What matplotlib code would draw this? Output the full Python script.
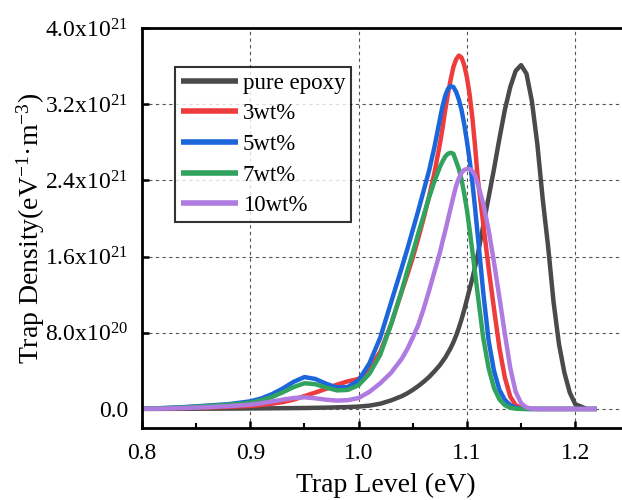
import numpy as np
import matplotlib
matplotlib.use('Agg')
import matplotlib.pyplot as plt
from matplotlib.ticker import MultipleLocator, FuncFormatter

plt.rcParams['font.family'] = ['Liberation Serif', 'DejaVu Serif']
plt.rcParams['mathtext.fontset'] = 'custom'
plt.rcParams['mathtext.rm'] = 'Liberation Serif'
plt.rcParams['mathtext.it'] = 'Liberation Serif:italic'

# trap level (eV), finer spacing around the peaks
trap_level = [0.80, 0.82, 0.84, 0.86, 0.88,
              0.90, 0.91, 0.92, 0.93, 0.94, 0.95, 0.96, 0.97, 0.98, 0.99, 1.00, 1.01, 1.02, 1.03, 1.04,
              1.045, 1.05, 1.055, 1.06, 1.065, 1.07,
              1.075, 1.0775, 1.08, 1.0825, 1.085, 1.0875, 1.09, 1.0925, 1.095, 1.0975, 1.10, 1.1025,
              1.105, 1.1075, 1.11,
              1.115, 1.12, 1.125, 1.13, 1.135, 1.14, 1.145, 1.15, 1.155, 1.16, 1.165, 1.17, 1.175,
              1.18, 1.185, 1.19, 1.195, 1.20,
              1.21, 1.22]

# trap density in units of 1e20 eV^-1 m^-3 (nan = no data)
pure_epoxy = [0, 0.01, 0.02, 0.03, 0.04,
              0.05, 0.06, 0.07, 0.08, 0.09, 0.10, 0.12, 0.14, 0.17, 0.20, 0.25, 0.35, 0.55, 0.90, 1.35,
              1.65, 2.0, 2.4, 2.85, 3.35, 3.95,
              4.6, 5.0, 5.4, 5.9, 6.4, 7.0, 7.7, 8.5, 9.4, 10.4, 11.5, 12.6, 13.7, 14.9, 16.2,
              19.2, 22.2, 25.2, 28.4, 31.4, 33.8, 35.5, 36.1, 35.2, 32.3, 27.8, 22.0, 17.0,
              11.2, 6.8, 3.8, 1.7, 0.5,
              0.03, np.nan]
wt3 = [0.02, 0.05, 0.10, 0.15, 0.22,
       0.32, 0.42, 0.55, 0.72, 0.98, 1.35, 1.72, 2.12, 2.55, 2.90, 3.15, 4.3, 6.0, 8.9, 12.4,
       14.1, 15.9, 17.9, 20.0, 22.3, 24.8,
       27.8, 29.5, 31.4, 33.1, 34.6, 35.9, 36.7, 37.1, 36.9, 36.1, 34.8, 33.0, 30.6, 27.6, 24.2,
       19.5, 14.8, 10.5, 6.4, 3.3, 1.3, 0.4, 0.1, 0.02, 0, 0, 0, 0,
       0, 0, 0, 0, 0,
       0, 0]
wt5 = [0.02, 0.10, 0.20, 0.35, 0.50,
       0.80, 1.10, 1.55, 2.15, 2.85, 3.35, 3.15, 2.65, 2.25, 2.30, 3.0, 4.8, 7.5, 11.2, 14.9,
       16.8, 18.8, 20.8, 22.9, 25.0, 27.5,
       30.4, 31.8, 32.9, 33.6, 33.9, 33.8, 33.3, 32.5, 31.4, 29.9, 28.1, 26.1, 23.8, 21.1, 18.2,
       12.3, 7.2, 4.0, 2.0, 0.95, 0.4, 0.12, 0.03, 0, 0, 0, 0, 0,
       0, 0, 0, 0, 0,
       0, 0]
wt7 = [0.02, 0.08, 0.17, 0.30, 0.45,
       0.65, 0.90, 1.25, 1.75, 2.30, 2.70, 2.60, 2.25, 1.95, 2.00, 2.50, 3.7, 5.7, 8.9, 12.5,
       14.5, 16.4, 18.4, 20.3, 22.2, 23.9,
       25.4, 26.0, 26.5, 26.8, 26.9, 26.8, 26.0, 25.2, 24.1, 22.6, 20.9, 18.8, 16.6, 14.3, 12.0,
       7.5, 4.3, 2.2, 1.0, 0.4, 0.12, 0.03, 0, 0, 0, 0, 0, 0,
       0, 0, 0, 0, 0,
       0, 0]
wt10 = [0.01, 0.04, 0.10, 0.18, 0.30,
        0.45, 0.60, 0.78, 0.98, 1.15, 1.22, 1.12, 0.97, 0.88, 0.92, 1.15, 1.8, 2.7, 3.8, 5.3,
        6.3, 7.5, 8.8, 10.5, 12.4, 14.4,
        16.4, 17.6, 18.7, 19.9, 21.1, 22.3, 23.4, 24.2, 24.8, 25.1, 25.2, 25.2, 25.0, 24.5, 23.6,
        21.6, 18.8, 15.4, 11.7, 7.9, 4.3, 1.8, 0.6, 0.15, 0.03, 0, 0, 0,
        0, 0, 0, 0, 0,
        0, 0]

labels = ['pure epoxy', '3wt%', '5wt%', '7wt%', '10wt%']
colors = ['#4a4a4a', '#ee3b3b', '#1c66dc', '#31a35e', '#b07be0']
series = [pure_epoxy, wt3, wt5, wt7, wt10]

fig = plt.figure(figsize=(6.22, 5.0), dpi=100)
# right edge of the axes lies just outside the image (x = 1.25)
ax = fig.add_axes([142 / 622, 72 / 500, 487.4 / 622, 400 / 500])

x = np.array(trap_level)
for y, lab, c in zip(series, labels, colors):
    ax.plot(x, np.array(y) * 1e20, color=c, lw=3.2, label=lab,
            solid_joinstyle='round', solid_capstyle='butt')

ax.set_xlim(0.8, 1.25)
ax.set_ylim(-2e20, 4e21)
ax.xaxis.set_major_locator(MultipleLocator(0.1))
ax.xaxis.set_minor_locator(MultipleLocator(0.05))
ax.yaxis.set_major_locator(MultipleLocator(8e20))
ax.xaxis.set_major_formatter(FuncFormatter(lambda v, p: f'{v:.1f}'))


def yfmt(v, p):
    if abs(v) < 1:
        return '0.0'
    e = int(np.floor(np.log10(abs(v))))
    m = v / 10 ** e
    return f'{m:.1f}x10$^{{\\mathregular{{{e}}}}}$'


ax.yaxis.set_major_formatter(FuncFormatter(yfmt))
ax.tick_params(which='major', direction='in', length=5, width=1.8, labelsize=17)
ax.tick_params(which='minor', direction='in', length=3.5, width=1.5)
ax.tick_params(axis='x', pad=11)
ax.tick_params(axis='y', pad=10)
for s in ['left', 'bottom', 'top']:
    ax.spines[s].set_linewidth(2)
ax.spines['right'].set_visible(False)

ax.grid(True, which='major', ls=(0, (3, 3)), color='#555555', lw=0.8)
ax.set_axisbelow(True)

ax.set_xlabel('Trap Level (eV)', fontsize=20, labelpad=6)
ax.set_ylabel('Trap Density(eV$^{\\mathregular{-1}}$·m$^{\\mathregular{-3}}$)', fontsize=20, labelpad=-1.5)

leg = ax.legend(loc='upper left', bbox_to_anchor=(0.0677, 0.9025), borderaxespad=0,
                fontsize=16.5, handlelength=2.5, handletextpad=0.2, labelspacing=0.42,
                frameon=True, fancybox=False, borderpad=0.25)
leg.get_frame().set_edgecolor('black')
leg.get_frame().set_linewidth(1.5)
for h in leg.get_lines():
    h.set_linewidth(4)

fig.savefig('out.png', dpi=100)
